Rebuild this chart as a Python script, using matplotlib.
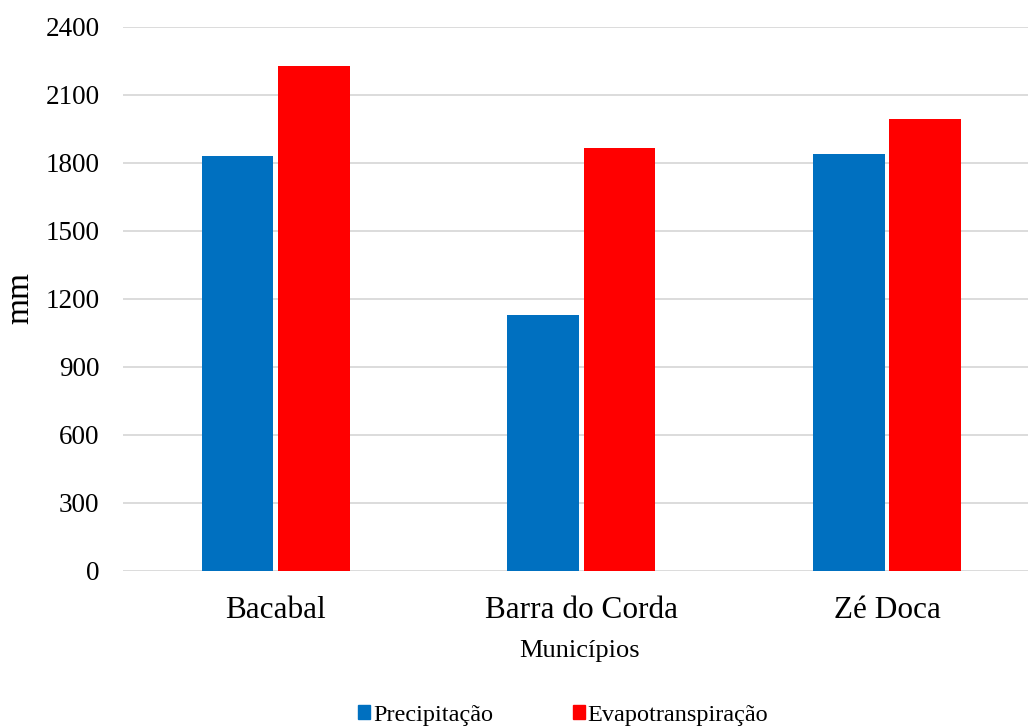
import numpy as np
import matplotlib.pyplot as plt
from matplotlib.patches import Patch

# Annual totals per municipality (mm)
municipios = ["Bacabal", "Barra do Corda", "Zé Doca"]
precipitacao = [1831, 1129, 1838]
evapotranspiracao = [2228, 1865, 1993]

plt.rcParams["font.family"] = ["Liberation Serif", "DejaVu Serif"]

fig = plt.figure(figsize=(10.28, 7.26), dpi=100)
ax = fig.add_axes([123 / 1028, 155 / 726, 905 / 1028, 544 / 726])

x = np.arange(len(municipios))
w = 0.234
blue = "#0070C0"
red = "#FF0000"
ax.bar(x - 0.125, precipitacao, w, color=blue, zorder=3)
ax.bar(x + 0.125, evapotranspiracao, w, color=red, zorder=3)

ax.set_ylim(0, 2400)
ax.set_xlim(-0.5, (1028 - 276) / 305.5)
ax.set_yticks(np.arange(0, 2401, 300))
ax.set_xticks(x)
ax.set_xticklabels(municipios)
ax.yaxis.grid(True, color="#D9D9D9", linewidth=1.3, zorder=0)
ax.tick_params(axis="y", length=0, pad=17, labelsize=19.5)
ax.tick_params(axis="x", length=0, pad=18, labelsize=22.5)
for s in ax.spines.values():
    s.set_visible(False)

ax.set_xlabel("Municípios", fontsize=19)
ax.xaxis.set_label_coords((580 - 123) / 905, (571 - 651) / 544)
ax.xaxis.label.set_va("center")
ax.set_ylabel("mm", fontsize=24)
ax.yaxis.set_label_coords((20 - 123) / 905, 0.502)
ax.yaxis.label.set_va("center")

handles = [Patch(color=blue, label="Precipitação"),
           Patch(color=red, label="Evapotranspiração")]
fig.legend(handles=handles, loc="center", bbox_to_anchor=(0.548, 1 - 715 / 726),
           ncol=2, frameon=False, fontsize=17.5, handlelength=0.5, handleheight=0.5,
           handletextpad=0.1, columnspacing=3.3)

fig.savefig("out.png", dpi=100)
